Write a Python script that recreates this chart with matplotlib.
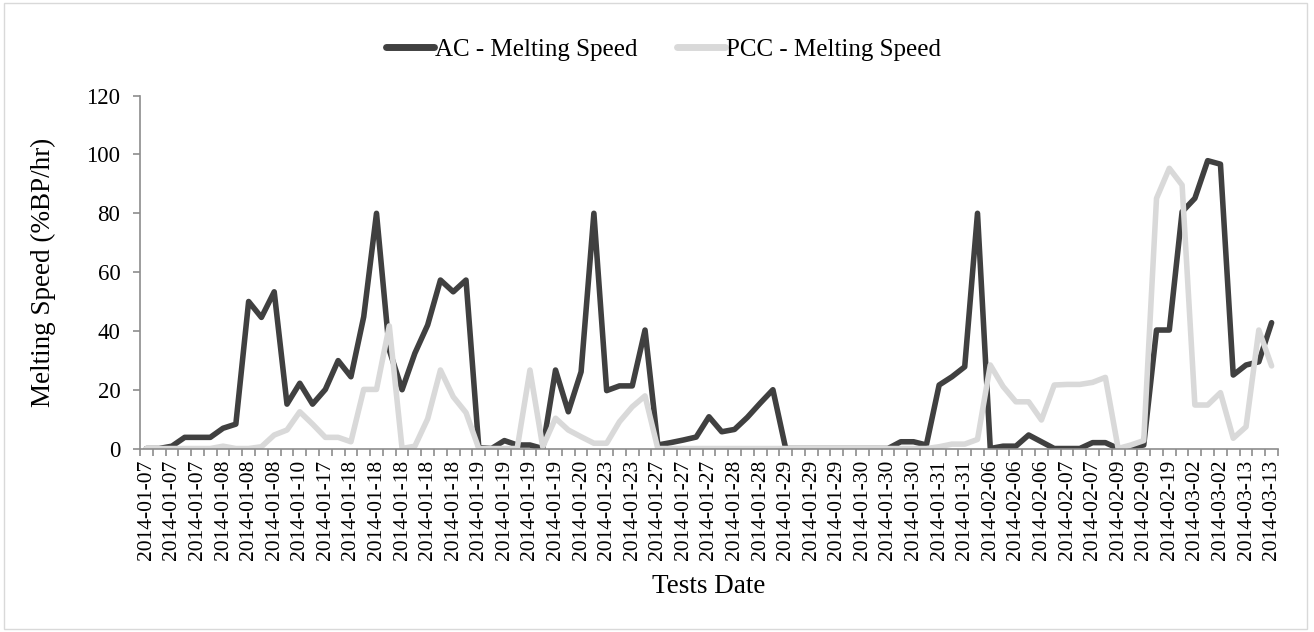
import numpy as np
import matplotlib.pyplot as plt
from matplotlib.patches import Rectangle

# Melting speed per test (%BP/hr)
AC_SPEED = [0, 0, 0.8, 3.8, 3.8, 3.8, 6.9, 8.3, 50, 44.6,
            53.3, 15.1, 22.2, 15.1, 20.1, 29.9, 24.4, 44.8, 80, 33.5,
            20, 32.4, 42, 57.3, 53.3, 57.3, 0.3, 0, 2.7, 1.2,
            1.2, 0, 26.7, 12.5, 26.1, 80, 19.7, 21.3, 21.3, 40.3,
            1.2, 2, 2.9, 3.9, 10.8, 5.7, 6.5, 10.6, 15.4, 20,
            0, 0, 0, 0, 0, 0, 0, 0, 0, 2.3,
            2.3, 1.2, 21.6, 24.4, 27.8, 80, 0, 0.8, 0.8, 4.6,
            2.3, 0, 0, 0, 2, 2, 0, 0.6, 1.2, 40.3,
            40.3, 80.5, 85.1, 97.9, 96.7, 25, 28.4, 29.5, 42.8]
PCC_SPEED = [0, 0, 0, 0, 0, 0, 0.8, 0, 0, 0.6,
             4.6, 6.3, 12.5, 8.3, 3.8, 3.8, 2.3, 20.1, 20.1, 41.7,
             0, 0.8, 10.1, 26.7, 17.6, 12.2, 0, 0, 0, 0,
             26.7, 0.6, 10.3, 6.3, 4, 1.8, 1.8, 9.1, 14.2, 17.9,
             0, 0, 0, 0, 0, 0, 0, 0, 0, 0,
             0, 0, 0, 0, 0, 0, 0, 0, 0, 0,
             0, 0, 0.6, 1.5, 1.5, 3.1, 28.4, 21.1, 15.9, 15.9,
             9.7, 21.6, 21.8, 21.8, 22.5, 24.2, 0, 1.2, 2.7, 85.1,
             95.3, 89.6, 14.8, 14.8, 19, 3.5, 7.4, 40.3, 28.1]

# only every second test date is labelled on the axis
DATE_LABELS = ['2014-01-07', '2014-01-07', '2014-01-07', '2014-01-08', '2014-01-08',
               '2014-01-08', '2014-01-10', '2014-01-17', '2014-01-18', '2014-01-18',
               '2014-01-18', '2014-01-18', '2014-01-18', '2014-01-19', '2014-01-19',
               '2014-01-19', '2014-01-19', '2014-01-20', '2014-01-23', '2014-01-23',
               '2014-01-27', '2014-01-27', '2014-01-27', '2014-01-28', '2014-01-28',
               '2014-01-29', '2014-01-29', '2014-01-29', '2014-01-30', '2014-01-30',
               '2014-01-30', '2014-01-31', '2014-01-31', '2014-02-06', '2014-02-06',
               '2014-02-06', '2014-02-07', '2014-02-07', '2014-02-09', '2014-02-09',
               '2014-02-19', '2014-03-02', '2014-03-02', '2014-03-13', '2014-03-13']

plt.rcParams['font.family'] = ['Liberation Serif', 'DejaVu Serif']
AXIS_GREY = '#8c8c8c'

fig = plt.figure(figsize=(13.14, 6.32), dpi=100)
ax = fig.add_axes([0.1065, 0.2903, 0.8661, 0.5583])

x = np.arange(len(AC_SPEED))
ax.plot(x, AC_SPEED, color='#404040', lw=4.0, solid_capstyle='round',
        solid_joinstyle='round', label='AC - Melting Speed')
ax.plot(x, PCC_SPEED, color='#d9d9d9', lw=4.0, solid_capstyle='round',
        solid_joinstyle='round', label='PCC - Melting Speed')

ax.set_xlim(-0.5, len(AC_SPEED) - 0.5)
ax.set_ylim(0, 120)
ax.set_yticks(np.arange(0, 121, 20))

# labels on every other category, tick marks on category boundaries
ax.set_xticks(x[::2])
ax.set_xticklabels(DATE_LABELS, rotation=90)
ax.set_xticks(np.arange(-0.5, len(AC_SPEED)), minor=True)
ax.tick_params(axis='x', which='major', length=0, pad=8, labelsize=15.5)
ax.tick_params(axis='x', which='minor', length=5, width=1.2, color=AXIS_GREY)
ax.tick_params(axis='y', length=5, width=1.2, color=AXIS_GREY, labelsize=16.5, pad=9)

for side in ['top', 'right']:
    ax.spines[side].set_visible(False)
for side in ['left', 'bottom']:
    ax.spines[side].set_color(AXIS_GREY)
    ax.spines[side].set_linewidth(1.2)

ax.set_xlabel('Tests Date', fontsize=19.5, labelpad=10)
ax.set_ylabel('Melting Speed (%BP/hr)', fontsize=19.5, labelpad=22)

leg = fig.legend(loc='upper center', bbox_to_anchor=(0.505, 0.975), ncol=2, frameon=False,
                 fontsize=18, handlelength=1.9, handletextpad=0.05, columnspacing=1.6)
for line in leg.get_lines():
    line.set_linewidth(5)

# light chart-area border
fig.patches.append(Rectangle((0.003, 0.005), 0.992, 0.99, transform=fig.transFigure,
                             fill=False, edgecolor='#d9d9d9', lw=1))

fig.savefig('out.png', dpi=100)
